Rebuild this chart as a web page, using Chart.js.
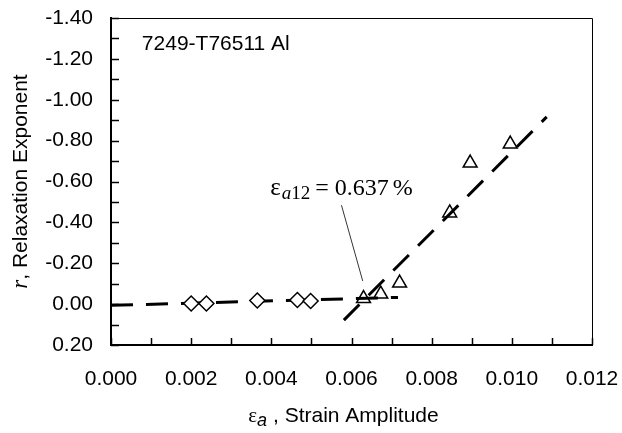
<!DOCTYPE html>
<html>
<head>
<meta charset="utf-8">
<script src="https://cdn.jsdelivr.net/npm/chart.js@4"></script>
<style>
  html, body { margin: 0; padding: 0; background: #fff; }
  #wrap { width: 622px; height: 433px; }
</style>
</head>
<body>
<div id="wrap"><canvas id="c"></canvas></div>
<script>
// diamonds (elastic range) and triangles (plastic range)
const diamondStrain = [0.0020, 0.00238, 0.00365, 0.00465, 0.00498];
const diamondR = [-0.003, -0.003, -0.018, -0.020, -0.015];
const triStrain = [0.0063, 0.00673, 0.0072, 0.00845, 0.00896, 0.00996];
const triR = [-0.027, -0.049, -0.103, -0.446, -0.690, -0.783];

// fitted dashed lines (end points)
const fit1Strain = [0.0, 0.00716];
const fit1R = [0.006, -0.033];
const fit2Strain = [0.00581, 0.01087];
const fit2R = [0.078, -0.916];

// leader line of the annotation
const leaderStrain = [0.00575, 0.00628];
const leaderR = [-0.484, -0.113];

// text anchors (data units)
const titleText = "7249-T76511 Al";
const titlePos = { x: 0.00077, y: -1.243 };
const noteValue = "0.637";
const notePos = { x: 0.00397, y: -0.533 };

const xTicks = { min: 0, max: 0.012, step: 0.001 };
const yTicks = { min: -1.4, max: 0.2, step: 0.1 };

const SANS = "'Liberation Sans', Arial, sans-serif";
const SERIF = "'Liberation Serif', 'Times New Roman', serif";
const FS = 21;

function pts(xs, ys) {
  return xs.map((v, i) => ({ x: v, y: ys[i] }));
}

// draw a run of text pieces with different fonts
function drawRun(ctx, parts, x, y) {
  let cx = x;
  parts.forEach(p => {
    ctx.font = p.font;
    ctx.fillText(p.t, cx, y + (p.dy || 0));
    cx += ctx.measureText(p.t).width + (p.gap || 0);
  });
}
function runWidth(ctx, parts) {
  let w = 0;
  parts.forEach(p => { ctx.font = p.font; w += ctx.measureText(p.t).width + (p.gap || 0); });
  return w;
}

const decor = {
  id: "decor",
  afterDraw(chart) {
    const { ctx, chartArea: a, scales: { x, y } } = chart;
    ctx.save();
    ctx.strokeStyle = "#000";
    ctx.fillStyle = "#000";

    // top and right frame
    ctx.lineWidth = 1;
    ctx.beginPath();
    ctx.moveTo(a.left, a.top + 0.5);
    ctx.lineTo(a.right + 0.5, a.top + 0.5);
    ctx.lineTo(a.right + 0.5, a.bottom);
    ctx.stroke();

    // inside tick marks
    ctx.lineWidth = 1.5;
    ctx.beginPath();
    y.ticks.forEach(t => {
      const py = Math.round(y.getPixelForValue(t.value)) + 0.5;
      ctx.moveTo(a.left, py);
      ctx.lineTo(a.left + 8, py);
    });
    x.ticks.forEach(t => {
      const px = Math.round(x.getPixelForValue(t.value)) + 0.5;
      ctx.moveTo(px, a.bottom);
      ctx.lineTo(px, a.bottom - 7);
    });
    ctx.stroke();

    ctx.textBaseline = "alphabetic";
    ctx.textAlign = "left";

    // series title inside the plot
    ctx.font = FS + "px " + SANS;
    ctx.fillText(titleText, x.getPixelForValue(titlePos.x), y.getPixelForValue(titlePos.y));

    // annotation
    drawRun(ctx, [
      { t: "\u03b5", font: "25px " + SERIF, gap: 1 },
      { t: "a", font: "italic 19px " + SERIF, dy: 4 },
      { t: "12", font: "19px " + SERIF, dy: 4, gap: 5 },
      { t: "= ", font: "24px " + SERIF },
      { t: noteValue, font: "24px " + SERIF, gap: 4 },
      { t: "%", font: "24px " + SERIF }
    ], x.getPixelForValue(notePos.x), y.getPixelForValue(notePos.y));

    // x axis title
    const xParts = [
      { t: "\u03b5", font: FS + "px " + SERIF },
      { t: "a", font: "italic 18px " + SANS, dy: 4 },
      { t: " , Strain Amplitude", font: FS + "px " + SANS }
    ];
    const xw = runWidth(ctx, xParts);
    drawRun(ctx, xParts, (a.left + a.right) / 2 - 8 - xw / 2, 422);

    // y axis title
    const yParts = [
      { t: "r", font: "italic 23px " + SERIF },
      { t: ", Relaxation Exponent", font: FS + "px " + SANS }
    ];
    const yw = runWidth(ctx, yParts);
    ctx.translate(27, (a.top + a.bottom) / 2);
    ctx.rotate(-Math.PI / 2);
    drawRun(ctx, yParts, -yw / 2, 0);

    ctx.restore();
  }
};

const dash = [22, 13];

new Chart(document.getElementById("c"), {
  type: "scatter",
  data: {
    datasets: [
      {
        label: "fit 1",
        type: "line",
        data: pts(fit1Strain, fit1R),
        borderColor: "#000",
        borderWidth: 3,
        borderDash: dash,
        pointRadius: 0,
        fill: false,
        order: 2
      },
      {
        label: "fit 2",
        type: "line",
        data: pts(fit2Strain, fit2R),
        borderColor: "#000",
        borderWidth: 3,
        borderDash: dash,
        pointRadius: 0,
        fill: false,
        order: 2
      },
      {
        label: "leader",
        type: "line",
        data: pts(leaderStrain, leaderR),
        borderColor: "#000",
        borderWidth: 0.8,
        pointRadius: 0,
        fill: false,
        order: 2
      },
      {
        label: "elastic",
        data: pts(diamondStrain, diamondR),
        pointStyle: "rectRot",
        pointRadius: 7.5,
        backgroundColor: "#fff",
        borderColor: "#000",
        borderWidth: 1.5,
        order: 1
      },
      {
        label: "plastic",
        data: pts(triStrain, triR),
        pointStyle: "triangle",
        pointRadius: 8,
        backgroundColor: "#fff",
        borderColor: "#000",
        borderWidth: 1.5,
        order: 3
      }
    ]
  },
  options: {
    responsive: true,
    maintainAspectRatio: false,
    animation: false,
    events: [],
    layout: { padding: { left: 0, top: 18, right: 30, bottom: 0 } },
    plugins: {
      legend: { display: false },
      tooltip: { enabled: false }
    },
    scales: {
      x: {
        type: "linear",
        min: xTicks.min,
        max: xTicks.max,
        grid: { drawOnChartArea: false, drawTicks: false },
        border: { color: "#000", width: 2 },
        ticks: {
          stepSize: xTicks.step,
          autoSkip: false,
          maxRotation: 0,
          padding: 22,
          color: "#000",
          font: { family: SANS, size: FS },
          callback: v => (Math.round(v * 1000) % 2 === 0 ? v.toFixed(3) : "")
        },
        afterFit: s => { s.height = 88; s.paddingLeft = 0; s.paddingRight = 0; }
      },
      y: {
        type: "linear",
        reverse: true,
        min: yTicks.min,
        max: yTicks.max,
        grid: { drawOnChartArea: false, drawTicks: false },
        border: { color: "#000", width: 2 },
        ticks: {
          stepSize: yTicks.step,
          autoSkip: false,
          padding: 18,
          color: "#000",
          font: { family: SANS, size: FS },
          callback: v => {
            const k = Math.round(v * 10);
            if (k % 2 !== 0) return "";
            const s = (k / 10).toFixed(2);
            return s === "-0.00" ? "0.00" : s;
          }
        },
        afterFit: s => { s.width = 111; s.paddingTop = 0; s.paddingBottom = 0; }
      }
    }
  },
  plugins: [decor]
});
</script>
</body>
</html>
